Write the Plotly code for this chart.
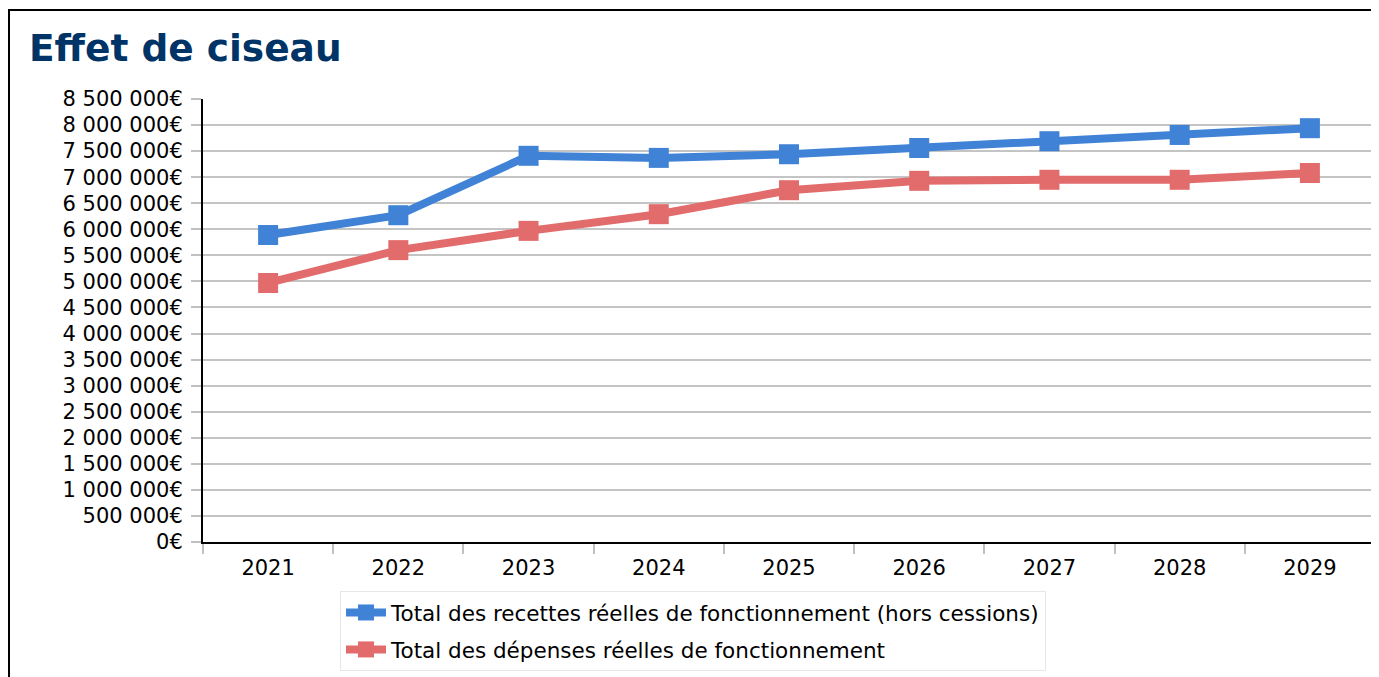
import plotly.graph_objects as go

years = ["2021", "2022", "2023", "2024", "2025", "2026", "2027", "2028", "2029"]
recettes = [5890000, 6270000, 7410000, 7370000, 7440000, 7560000, 7690000, 7810000, 7940000]
depenses = [4970000, 5600000, 5970000, 6290000, 6750000, 6930000, 6950000, 6950000, 7080000]
name_recettes = "Total des recettes réelles de fonctionnement (hors cessions)"
name_depenses = "Total des dépenses réelles de fonctionnement"
title_text = "Effet de ciseau"

font_family = "DejaVu Sans, Verdana, sans-serif"

W, H = 1371, 669
L, R, T, B = 195, 4, 91, 135
PW, PH = W - L - R, H - T - B

fig = go.Figure()
fig.add_trace(go.Scatter(
    x=years, y=recettes, name=name_recettes, mode="lines+markers",
    legendgroup="a",
    line=dict(color="#3f82d6", width=8),
    marker=dict(symbol="square", size=20, color="#3f82d6"),
))
fig.add_trace(go.Scatter(
    x=years, y=depenses, name=name_depenses, mode="lines+markers",
    legendgroup="b",
    line=dict(color="#e26b6b", width=8),
    marker=dict(symbol="square", size=20, color="#e26b6b"),
))

fig.update_layout(
    width=W, height=H,
    paper_bgcolor="white", plot_bgcolor="white",
    margin=dict(l=L, r=R, t=T, b=B, pad=0, autoexpand=False),
    separators=", ",
    font=dict(family=font_family, size=21, color="#000000"),
    title=dict(text="<b>" + title_text + "</b>", x=21 / W, xanchor="left",
               y=1 - 40 / H, yanchor="middle",
               font=dict(family=font_family, size=37.5, color="#003366")),
    showlegend=True,
    legend=dict(xref="container", yref="container",
                x=332 / W, y=1 - 583 / H, xanchor="left", yanchor="top",
                bgcolor="white", bordercolor="#e6e6e6", borderwidth=1,
                font=dict(family=font_family, size=21.5, color="#000000"),
                traceorder="grouped", tracegroupgap=6, itemwidth=40),
    xaxis=dict(
        type="category", showgrid=False, showline=True, linecolor="#000000", linewidth=2,
        ticks="outside", tickson="boundaries", ticklen=10, tickcolor="#c0c0c0", tickwidth=2,
        tickfont=dict(family=font_family, size=21, color="#000000"),
        ticklabelstandoff=6, automargin=False,
        range=[-0.5, 8.5],
    ),
    yaxis=dict(
        range=[0, 8500000], dtick=500000, tick0=0, tickformat=",d", ticksuffix="€",
        showgrid=True, gridcolor="#c4c4c4", gridwidth=2,
        showline=True, linecolor="#000000", linewidth=2,
        ticks="outside", ticklen=10, tickcolor="#c0c0c0", tickwidth=2,
        tickfont=dict(family=font_family, size=21, color="#000000"),
        ticklabelstandoff=4, automargin=False,
        zeroline=False,
    ),
)

# outer frame
fig.add_shape(type="rect", xref="paper", yref="paper",
              x0=(1 - L) / PW, x1=(W + 20 - L) / PW,
              y0=(T + PH - (H + 20)) / PH, y1=(T + PH - 2) / PH,
              line=dict(color="#000000", width=2), fillcolor="rgba(0,0,0,0)", layer="below")

fig.write_html("out.html")
